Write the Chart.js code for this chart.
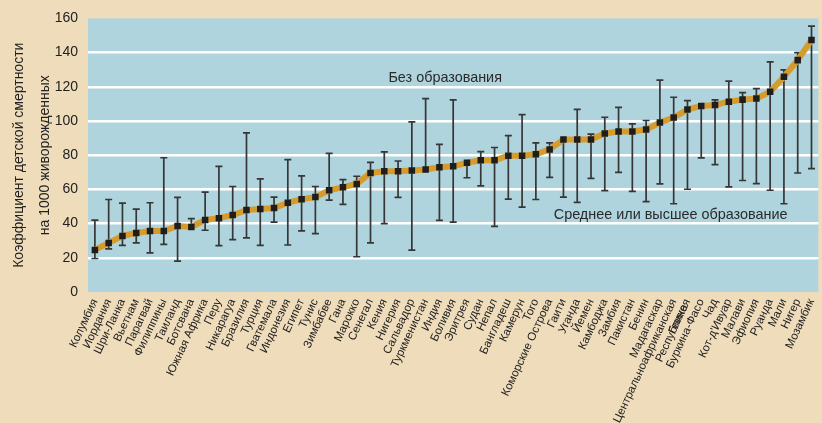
<!DOCTYPE html>
<html lang="ru">
<head>
<meta charset="utf-8">
<title>Коэффициент детской смертности</title>
<script src="https://cdn.jsdelivr.net/npm/chart.js@4.4.1/dist/chart.umd.min.js"></script>
<style>
  html, body { margin: 0; padding: 0; background: #efdcbb; overflow: hidden; }
  #wrap { position: relative; width: 828px; height: 423px; }
</style>
</head>
<body>
<div id="wrap"><canvas id="chart"></canvas></div>
<script>
const countries = [
    'Колумбия', 'Иордания', 'Шри-Ланка', 'Вьетнам', 'Парагвай', 'Филиппины', 'Таиланд',
    'Ботсвана', 'Южная Африка', 'Перу', 'Никарагуа', 'Бразилия', 'Турция', 'Гватемала',
    'Индонезия', 'Египет', 'Тунис', 'Зимбабве', 'Гана', 'Марокко', 'Сенегал', 'Кения',
    'Нигерия', 'Сальвадор', 'Туркменистан', 'Индия', 'Боливия', 'Эритрея', 'Судан', 'Непал',
    'Бангладеш', 'Камерун', 'Того', 'Коморские Острова', 'Гаити', 'Уганда', 'Йемен',
    'Камбоджа', 'Замбия', 'Пакистан', 'Бенин', 'Мадагаскар',
    ['Центральноафриканская', 'Республика'], 'Гвинея', 'Буркина-Фасо', 'Чад', "Кот-д'Ивуар",
    'Малави', 'Эфиопия', 'Руанда', 'Мали', 'Нигер', 'Мозамбик'
];

// average rate (the orange line)
const averageRate = [
    24.6, 28.7, 32.8, 34.5, 35.7, 35.7, 38.6, 38.0, 42.1, 43.2,
    45.0, 47.9, 48.5, 49.1, 52.2, 54.3, 55.5, 59.5, 61.3, 63.2,
    69.6, 70.6, 70.6, 71.0, 71.6, 72.9, 73.5, 75.6, 77.0, 77.0,
    79.7, 79.7, 80.5, 83.4, 89.2, 89.2, 89.2, 92.7, 93.9, 93.9,
    95.0, 99.1, 102.0, 106.7, 108.8, 109.4, 111.3, 112.5, 113.1, 117.1,
    125.9, 135.6, 147.4
];

// mothers without education (top of the bar)
const noEducationRate = [
    42.0, 54.1, 52.0, 48.5, 52.2, 78.5, 55.3, 42.9, 58.4, 73.5,
    61.7, 93.1, 66.1, 55.5, 77.4, 67.9, 61.7, 81.1, 65.7, 67.7,
    75.8, 82.0, 76.6, 99.5, 113.1, 86.3, 112.3, 75.6, 82.1, 84.5,
    91.5, 103.7, 87.2, 87.2, 89.2, 106.8, 92.3, 102.2, 108.0, 98.3,
    100.3, 123.9, 113.9, 111.9, 108.8, 112.3, 123.3, 116.6, 118.9, 134.6,
    129.9, 140.0, 155.5
];

// mothers with secondary or higher education (bottom of the bar)
const secondaryRate = [
    19.6, 25.2, 27.3, 28.7, 22.9, 27.9, 18.0, 38.0, 36.1, 27.1,
    30.6, 31.6, 27.3, 40.9, 27.5, 35.7, 34.1, 53.7, 51.2, 20.6,
    28.7, 40.0, 55.3, 24.5, 71.6, 41.9, 40.9, 66.8, 62.1, 38.4,
    54.3, 49.6, 54.1, 67.0, 55.5, 52.4, 66.5, 59.3, 70.0, 58.9,
    52.8, 63.2, 51.6, 60.1, 78.4, 74.5, 61.5, 65.2, 63.4, 59.5,
    51.6, 69.6, 72.1
];

const yMin = 0;
const yMax = 160;
const yStep = 20;

const fontFamily = "'Liberation Sans Narrow', 'Arial Narrow', 'Liberation Sans', Arial, sans-serif";
const textColour = '#222';

const plotBackground = {
    id: 'plotBackground',
    beforeDraw(chart) {
        const { ctx, chartArea } = chart;
        ctx.save();
        ctx.fillStyle = '#afd4de';
        ctx.fillRect(chartArea.left, chartArea.top, chartArea.right - chartArea.left, chartArea.bottom - chartArea.top);
        ctx.restore();
    }
};

const errorBars = {
    id: 'errorBars',
    beforeDatasetsDraw(chart) {
        const { ctx, scales: { x, y } } = chart;
        const cap = 3.5;
        ctx.save();
        ctx.strokeStyle = '#363636';
        ctx.lineWidth = 1.7;
        averageRate.forEach((_, i) => {
            const px = x.getPixelForValue(i);
            const top = y.getPixelForValue(noEducationRate[i]);
            const bottom = y.getPixelForValue(secondaryRate[i]);
            ctx.beginPath();
            ctx.moveTo(px, top);
            ctx.lineTo(px, bottom);
            ctx.moveTo(px - cap, top);
            ctx.lineTo(px + cap, top);
            ctx.moveTo(px - cap, bottom);
            ctx.lineTo(px + cap, bottom);
            ctx.stroke();
        });
        ctx.restore();
    }
};

const seriesNotes = {
    id: 'seriesNotes',
    afterDatasetsDraw(chart) {
        const { ctx, scales: { x, y } } = chart;
        const notes = [
            { text: 'Без образования', at: 21.3, value: 125 },
            { text: 'Среднее или высшее образование', at: 33.3, value: 44.8 }
        ];
        ctx.save();
        ctx.font = `14.4px ${fontFamily}`;
        ctx.fillStyle = '#2a2a2a';
        ctx.textAlign = 'left';
        ctx.textBaseline = 'middle';
        notes.forEach(note => {
            ctx.fillText(note.text, x.getPixelForValue(note.at), y.getPixelForValue(note.value));
        });
        ctx.restore();
    }
};

const config = {
    type: 'line',
    data: {
        labels: countries,
        datasets: [{
            label: 'Среднее',
            data: averageRate,
            borderColor: '#d69b2d',
            borderWidth: 6,
            tension: 0,
            pointStyle: 'rect',
            pointRadius: 4.6,
            pointBackgroundColor: '#1e1e1e',
            pointBorderWidth: 0
        }]
    },
    options: {
        responsive: true,
        maintainAspectRatio: false,
        animation: false,
        layout: {
            padding: { top: 17, right: 0, bottom: 0, left: 0 }
        },
        plugins: {
            legend: { display: false },
            tooltip: { enabled: false }
        },
        scales: {
            x: {
                offset: true,
                grid: { display: false, drawTicks: false },
                border: { display: false },
                ticks: {
                    autoSkip: false,
                    minRotation: 65,
                    maxRotation: 65,
                    padding: 5,
                    color: textColour,
                    font: { family: fontFamily, size: 11.5, lineHeight: 1.1 }
                },
                afterFit(scale) {
                    scale.height = 131;
                }
            },
            y: {
                min: yMin,
                max: yMax,
                ticks: {
                    stepSize: yStep,
                    padding: 10,
                    color: textColour,
                    font: { family: fontFamily, size: 14 }
                },
                grid: {
                    drawTicks: false,
                    lineWidth: 2.5,
                    color: (ctx) => (ctx.tick.value === yMin || ctx.tick.value === yMax) ? 'rgba(0,0,0,0)' : '#ffffff'
                },
                border: { display: false },
                title: {
                    display: true,
                    text: ['Коэффициент детской смертности', 'на 1000 живорожденных'],
                    color: textColour,
                    font: { family: fontFamily, size: 14, lineHeight: 1.85 },
                    padding: { top: 6, bottom: 0 }
                },
                afterFit(scale) {
                    scale.width = 88;
                }
            }
        }
    },
    plugins: [plotBackground, errorBars, seriesNotes]
};

new Chart(document.getElementById('chart'), config);
</script>
</body>
</html>
